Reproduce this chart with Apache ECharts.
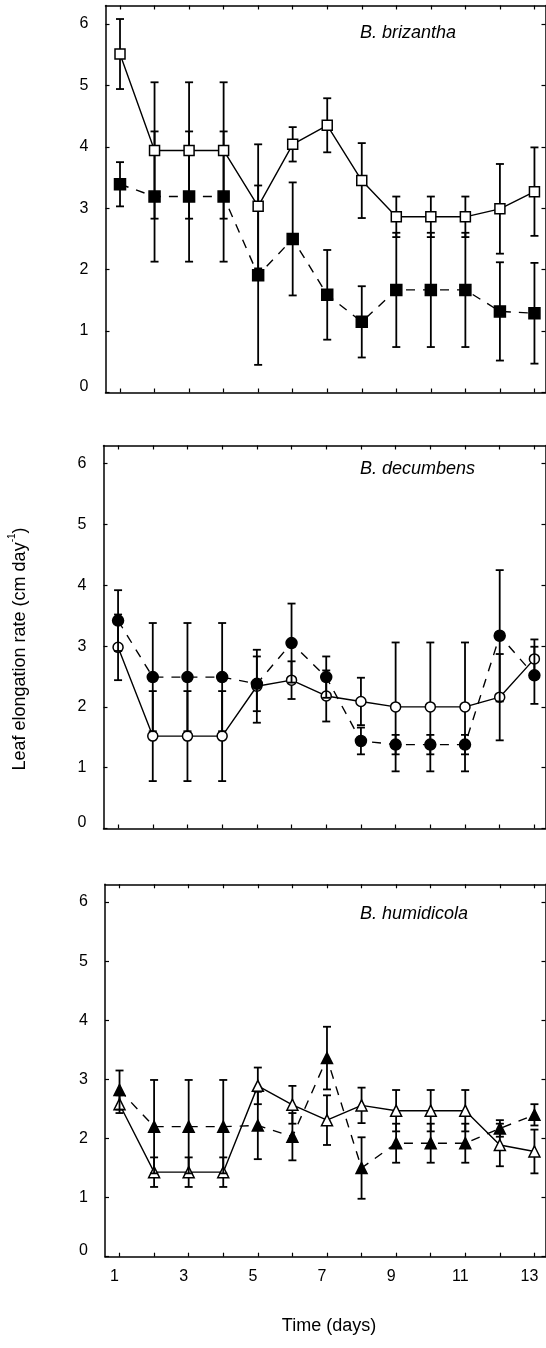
<!DOCTYPE html>
<html>
<head>
<meta charset="utf-8">
<script src="https://cdn.jsdelivr.net/npm/echarts@6/dist/echarts.min.js"></script>
<style>
  html, body { margin: 0; padding: 0; background: #fff; }
  #main { width: 546px; height: 1348px; }
</style>
</head>
<body>
<div id="main"></div>
<script>
// days on the x axis
const days = [1, 2, 3, 4, 5, 6, 7, 8, 9, 10, 11, 12, 13];
const xLabels = [1, 3, 5, 7, 9, 11, 13];
const yTicks = [0, 1, 2, 3, 4, 5, 6];

// B. brizantha (open = solid line, filled = dashed line)
const brizOpen = [5.51, 3.94, 3.94, 3.94, 3.03, 4.04, 4.35, 3.45, 2.86, 2.86, 2.86, 2.99, 3.27];
const brizOpenErr = [0.57, 1.11, 1.11, 1.11, 1.01, 0.28, 0.44, 0.61, 0.33, 0.33, 0.33, 0.73, 0.72];
const brizFilled = [3.39, 3.19, 3.19, 3.19, 1.91, 2.50, 1.59, 1.15, 1.67, 1.67, 1.67, 1.32, 1.29];
const brizFilledErr = [0.36, 1.06, 1.06, 1.06, 1.46, 0.92, 0.73, 0.58, 0.93, 0.93, 0.93, 0.80, 0.82];

// B. decumbens
const decOpen = [2.98, 1.52, 1.52, 1.52, 2.34, 2.44, 2.18, 2.09, 2.00, 2.00, 2.00, 2.16, 2.79];
const decOpenErr = [0.54, 0.74, 0.74, 0.74, 0.60, 0.31, 0.42, 0.39, 1.06, 1.06, 1.06, 0.71, 0.32];
const decFilled = [3.42, 2.49, 2.49, 2.49, 2.38, 3.05, 2.49, 1.44, 1.38, 1.38, 1.38, 3.17, 2.52];
const decFilledErr = [0.50, 0.89, 0.89, 0.89, 0.45, 0.65, 0.34, 0.22, 0.16, 0.16, 0.16, 1.08, 0.47];

// B. humidicola
const humOpen = [2.58, 1.43, 1.43, 1.43, 2.89, 2.57, 2.31, 2.56, 2.47, 2.47, 2.47, 1.89, 1.78];
const humOpenErr = [0.15, 0.25, 0.25, 0.25, 0.31, 0.32, 0.42, 0.30, 0.35, 0.35, 0.35, 0.36, 0.37];
const humFilled = [2.82, 2.20, 2.20, 2.20, 2.22, 2.03, 3.36, 1.50, 1.92, 1.92, 1.92, 2.17, 2.40];
const humFilledErr = [0.33, 0.79, 0.79, 0.79, 0.57, 0.40, 0.53, 0.52, 0.33, 0.33, 0.33, 0.14, 0.18];

const FONT = "'Liberation Sans', Arial, sans-serif";
const X_MIN = 0.58, X_MAX = 13.32, Y_MAX = 6.3;

const chart = echarts.init(document.getElementById('main'));

function xAxes(g, showLabels) {
  const base = {
    type: 'value', gridIndex: g, min: X_MIN, max: X_MAX,
    axisLine: { show: true, onZero: false, lineStyle: { color: '#000', width: 1.5 } },
    axisTick: { show: true, inside: true, length: 4, customValues: days, lineStyle: { color: '#000', width: 1.2 } },
    splitLine: { show: false }
  };
  return [
    Object.assign({}, base, {
      position: 'bottom',
      axisLabel: {
        show: showLabels, customValues: xLabels, margin: 12, color: '#000',
        fontSize: 16, fontFamily: FONT, padding: [0, 10, 0, 0]
      }
    }),
    Object.assign({}, base, { position: 'top', axisLabel: { show: false } })
  ];
}

function yAxes(g) {
  const base = {
    type: 'value', gridIndex: g, min: 0, max: Y_MAX,
    axisLine: { show: true, onZero: false, lineStyle: { color: '#000', width: 1.5 } },
    axisTick: { show: true, inside: true, length: 4, customValues: yTicks, lineStyle: { color: '#000', width: 1.2 } },
    splitLine: { show: false }
  };
  return [
    Object.assign({}, base, {
      position: 'left',
      axisLabel: {
        customValues: yTicks, margin: 17, color: '#000', fontSize: 16, fontFamily: FONT,
        formatter: v => (v === 0 ? '{z|0}' : String(v)),
        rich: { z: { fontSize: 16, fontFamily: FONT, color: '#000', padding: [0, 0, 12, 0] } }
      }
    }),
    Object.assign({}, base, { position: 'right', axisLabel: { show: false } })
  ];
}

function errorBars(axis, mean, err, z) {
  return {
    type: 'custom', xAxisIndex: axis * 2, yAxisIndex: axis * 2, z: z, silent: true,
    data: days.map((d, i) => [d, mean[i] - err[i], mean[i] + err[i]]),
    encode: { x: 0, y: [1, 2] },
    renderItem: (params, api) => {
      const x = api.value(0);
      const lo = api.coord([x, api.value(1)]);
      const hi = api.coord([x, api.value(2)]);
      const w = 4;
      const st = { stroke: '#000', lineWidth: 1.8 };
      return {
        type: 'group',
        children: [
          { type: 'line', shape: { x1: lo[0], y1: lo[1], x2: hi[0], y2: hi[1] }, style: st },
          { type: 'line', shape: { x1: lo[0] - w, y1: lo[1], x2: lo[0] + w, y2: lo[1] }, style: st },
          { type: 'line', shape: { x1: hi[0] - w, y1: hi[1], x2: hi[0] + w, y2: hi[1] }, style: st }
        ]
      };
    }
  };
}

function line(axis, mean, symbol, size, filled, z) {
  return {
    type: 'line', xAxisIndex: axis * 2, yAxisIndex: axis * 2, z: z,
    data: days.map((d, i) => [d, mean[i]]),
    symbol: symbol, symbolSize: size, showAllSymbol: true,
    lineStyle: { color: '#000', width: 1.4, type: filled ? [9, 8] : 'solid' },
    itemStyle: { color: filled ? '#000' : '#fff', borderColor: '#000', borderWidth: 1.5, opacity: 1 }
  };
}

const option = {
  animation: false,
  backgroundColor: '#fff',
  grid: [
    { left: 105.5, right: 0.5, top: 5.5, height: 387 },
    { left: 103.5, right: 0.5, top: 445.5, height: 383 },
    { left: 105, right: 0.5, top: 884.3, height: 372.4 }
  ],
  xAxis: [].concat(xAxes(0, false), xAxes(1, false), xAxes(2, true)),
  yAxis: [].concat(yAxes(0), yAxes(1), yAxes(2)),
  series: [
    // B. brizantha: filled first, open on top
    errorBars(0, brizFilled, brizFilledErr, 2),
    line(0, brizFilled, 'rect', 11, true, 3),
    errorBars(0, brizOpen, brizOpenErr, 4),
    line(0, brizOpen, 'rect', 10, false, 5),
    // B. decumbens
    errorBars(1, decOpen, decOpenErr, 2),
    line(1, decOpen, 'circle', 10, false, 3),
    errorBars(1, decFilled, decFilledErr, 4),
    line(1, decFilled, 'circle', 11, true, 5),
    // B. humidicola
    errorBars(2, humOpen, humOpenErr, 2),
    line(2, humOpen, 'triangle', 11, false, 3),
    errorBars(2, humFilled, humFilledErr, 4),
    line(2, humFilled, 'triangle', 11, true, 5)
  ],
  graphic: [
    { type: 'text', x: 360, y: 33, style: { text: 'B. brizantha', fill: '#000', font: 'italic 18px ' + FONT, verticalAlign: 'middle' } },
    { type: 'text', x: 360, y: 469, style: { text: 'B. decumbens', fill: '#000', font: 'italic 18px ' + FONT, verticalAlign: 'middle' } },
    { type: 'text', x: 360, y: 914, style: { text: 'B. humidicola', fill: '#000', font: 'italic 18px ' + FONT, verticalAlign: 'middle' } },
    {
      type: 'text', x: 18, y: 649, rotation: Math.PI / 2,
      style: {
        text: '{a|Leaf elongation rate (cm day}{s|-1}{a|)}',
        align: 'center', verticalAlign: 'middle', fill: '#000',
        rich: {
          a: { fontSize: 18, fontFamily: FONT, color: '#000', lineHeight: 22, verticalAlign: 'bottom' },
          s: { fontSize: 10, fontFamily: FONT, color: '#000', lineHeight: 22, verticalAlign: 'top', padding: [0, 0, 10, 0] }
        }
      }
    },
    { type: 'text', x: 329, y: 1326, style: { text: 'Time (days)', fill: '#000', font: '18px ' + FONT, align: 'center', verticalAlign: 'middle' } }
  ]
};

chart.setOption(option);
</script>
</body>
</html>
